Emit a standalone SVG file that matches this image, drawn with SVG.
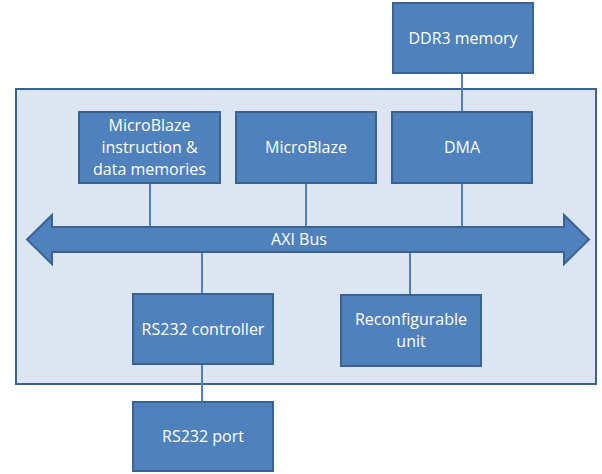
<svg xmlns="http://www.w3.org/2000/svg" width="602" height="474" viewBox="0 0 602 474">
<style>
.box{fill:#4F81BD;stroke:#3A6394;stroke-width:2}
.t{fill:#FFFFFF;font-family:"Open Sans","Liberation Sans",sans-serif;font-size:16px;text-anchor:middle}
.ln{stroke:#4F81BD;stroke-width:2;fill:none}
</style>
<rect x="0" y="0" width="602" height="474" fill="#FFFFFF"/>
<g id="fpga"><rect x="16" y="89" width="580" height="295" fill="#DCE6F2" stroke="#3A6394" stroke-width="2"/></g>
<g id="connectors">
<line class="ln" x1="462" y1="73" x2="462" y2="112"/>
<line class="ln" x1="150" y1="183" x2="150" y2="228"/>
<line class="ln" x1="306" y1="183" x2="306" y2="228"/>
<line class="ln" x1="462" y1="183" x2="462" y2="228"/>
<line class="ln" x1="202" y1="251" x2="202" y2="294"/>
<line class="ln" x1="410" y1="251" x2="410" y2="295"/>
<line class="ln" x1="202" y1="364" x2="202" y2="402"/>
</g>
<g id="axi-bus">
<path d="M27,239.5 L52,215 L52,227 L564,227 L564,215 L589,239.5 L564,264 L564,252 L52,252 L52,264 Z" fill="#4F81BD" stroke="#3A6394" stroke-width="2"/>
<text class="t" x="299" y="245">AXI Bus</text>
</g>
<g id="ddr3"><rect class="box" x="393" y="3" width="140" height="70"/><text class="t" x="463" y="44">DDR3 memory</text></g>
<g id="mb-mem"><rect class="box" x="79" y="112" width="141" height="71"/>
<text class="t" x="149.5" y="131">MicroBlaze</text><text class="t" x="149.5" y="153">instruction &amp;</text><text class="t" x="149.5" y="175">data memories</text></g>
<g id="microblaze"><rect class="box" x="236" y="112" width="140" height="71"/><text class="t" x="306" y="153">MicroBlaze</text></g>
<g id="dma"><rect class="box" x="392" y="112" width="140" height="71"/><text class="t" x="462" y="153">DMA</text></g>
<g id="rs232-ctrl"><rect class="box" x="133" y="294" width="140" height="70"/><text class="t" x="203" y="335">RS232 controller</text></g>
<g id="reconf"><rect class="box" x="341" y="295" width="140" height="71"/><text class="t" x="411" y="325">Reconfigurable</text><text class="t" x="411" y="347">unit</text></g>
<g id="rs232-port"><rect class="box" x="133" y="402" width="140" height="69"/><text class="t" x="203" y="442">RS232 port</text></g>
</svg>
